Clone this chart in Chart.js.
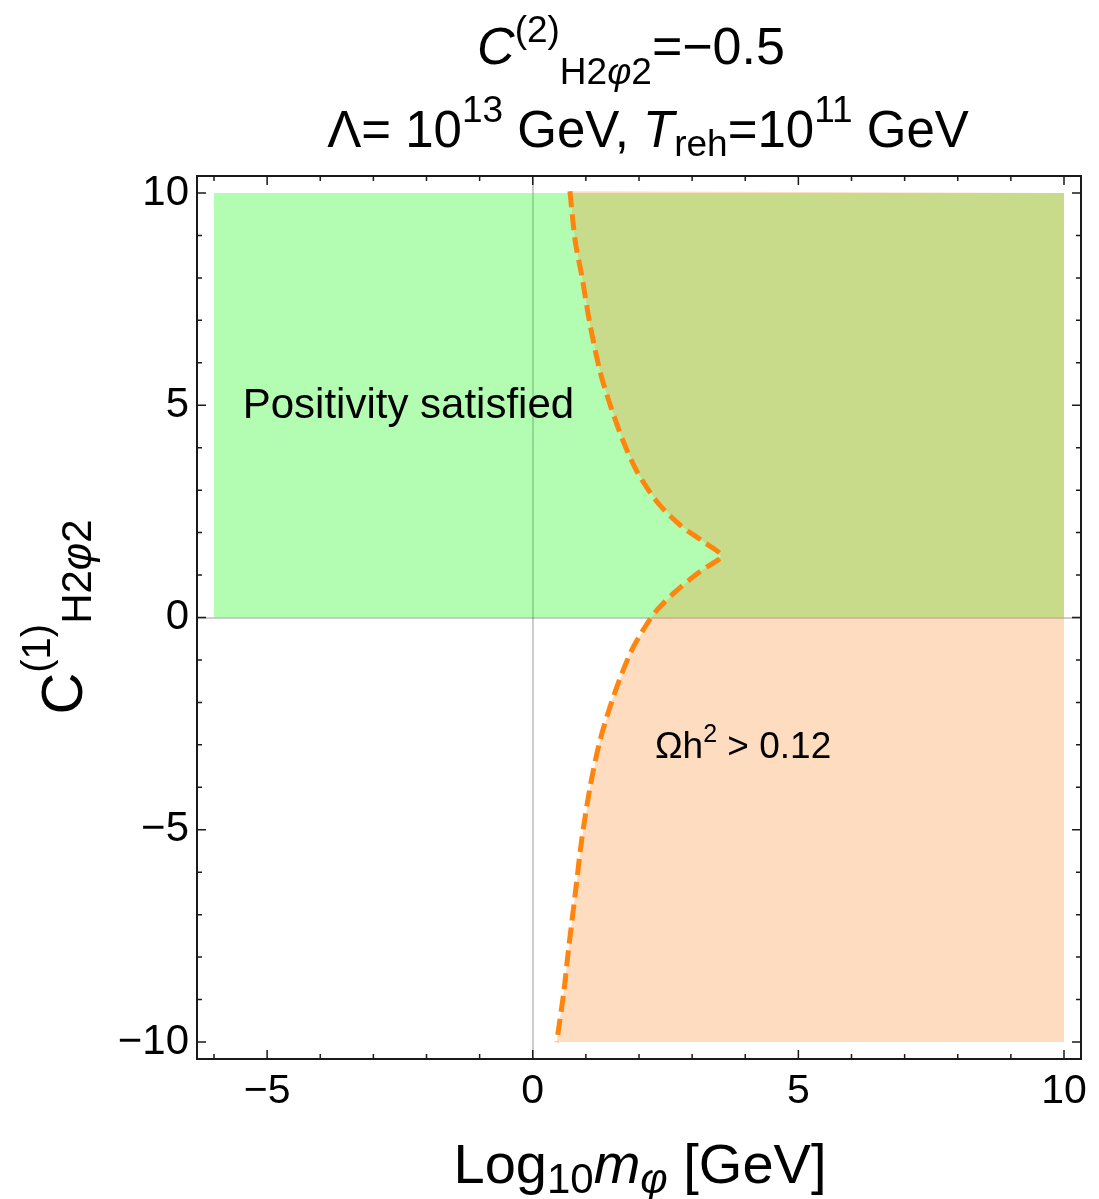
<!DOCTYPE html>
<html>
<head>
<meta charset="utf-8">
<script src="https://cdn.jsdelivr.net/npm/chart.js@4"></script>
<style>
html, body { margin: 0; padding: 0; background: #fff; }
</style>
</head>
<body>
<canvas id="c" width="1099" height="1199"></canvas>
<script>
// оси
var xRange = [-6.32, 10.32];
var yRange = [-10.4, 10.4];
var xTicks = [-5, 0, 5, 10];
var yTicks = [-10, -5, 0, 5, 10];

// область "Positivity satisfied" (прямоугольник)
var greenX = [-6, -6, 10, 10];
var greenY = [0, 10, 10, 0];

// граница Omega h^2 = 0.12, x как функция y (сверху вниз)
var curveY = [10.04, 8.86, 8.07, 6.89, 5.78, 5.0, 4.13, 3.42, 2.71, 2.16, 1.77, 1.45, 1.2, 0.98, 0.58, 0.19, -0.13, -0.83, -1.86, -2.88, -3.99, -5.25, -6.51, -7.85, -8.87, -10];
var curveX = [0.70, 0.80, 0.92, 1.08, 1.27, 1.46, 1.71, 1.97, 2.35, 2.79, 3.23, 3.55, 3.29, 3.04, 2.66, 2.35, 2.16, 1.84, 1.52, 1.27, 1.08, 0.92, 0.80, 0.67, 0.58, 0.45];

// правые углы области Omega h^2 > 0.12
var orangeCornerX = [10, 10];
var orangeCornerY = [-10, 10];

var FONT = "'Liberation Sans', Arial, sans-serif";

function pts(xs, ys){
	var r = [];
	for (var i = 0; i < xs.length; i++) r.push({x: xs[i], y: ys[i]});
	return r;
}

// текст с индексами: [текст, размер, сдвиг по y, курсив]
function richText(ctx, parts, x, y, align){
	var w = 0;
	parts.forEach(function(p){
		ctx.font = (p[3] ? 'italic ' : '') + p[1] + 'px ' + FONT;
		w += ctx.measureText(p[0]).width;
	});
	var cx = align === 'center' ? x - w / 2 : x;
	ctx.textAlign = 'left';
	ctx.textBaseline = 'alphabetic';
	parts.forEach(function(p){
		ctx.font = (p[3] ? 'italic ' : '') + p[1] + 'px ' + FONT;
		ctx.fillText(p[0], cx, y + p[2]);
		cx += ctx.measureText(p[0]).width;
	});
}

var decor = {
	id: 'decor',
	afterDatasetsDraw: function(chart){
		var ctx = chart.ctx, x = chart.scales.x, y = chart.scales.y;
		ctx.save();
		ctx.fillStyle = '#000';
		richText(ctx, [['Positivity satisfied', 42, 0, false]], x.getPixelForValue(-5.46), y.getPixelForValue(4.70), 'left');
		richText(ctx, [['\u03A9h', 37, 0, false], ['2', 25, -16, false], [' > 0.12', 37, 0, false]], x.getPixelForValue(2.30), y.getPixelForValue(-3.31), 'left');
		ctx.restore();
	},
	afterDraw: function(chart){
		var ctx = chart.ctx, a = chart.chartArea, x = chart.scales.x, y = chart.scales.y;
		var v, p, len;
		ctx.save();
		// рамка и внутренние засечки
		ctx.strokeStyle = '#1a1a1a';
		ctx.lineWidth = 2;
		ctx.strokeRect(a.left, a.top, a.right - a.left, a.bottom - a.top);
		ctx.lineWidth = 1.5;
		ctx.beginPath();
		for (v = -6; v <= 10; v++){
			p = x.getPixelForValue(v);
			len = v % 5 === 0 ? 9 : 5;
			ctx.moveTo(p, a.bottom); ctx.lineTo(p, a.bottom - len);
			ctx.moveTo(p, a.top); ctx.lineTo(p, a.top + len);
		}
		for (v = -10; v <= 10; v++){
			p = y.getPixelForValue(v);
			len = v % 5 === 0 ? 9 : 5;
			ctx.moveTo(a.left, p); ctx.lineTo(a.left + len, p);
			ctx.moveTo(a.right, p); ctx.lineTo(a.right - len, p);
		}
		ctx.stroke();

		ctx.fillStyle = '#000';
		// заголовок
		richText(ctx, [
			['C', 52, 0, true], ['(2)', 37, -22, false],
			['H2', 37, 20, false], ['\u03C6', 37, 20, true], ['2', 37, 20, false],
			['=\u22120.5', 52, 0, false]
		], 631, 64, 'center');
		richText(ctx, [
			['\u039B= 10', 51, 0, false], ['13', 37, -25, false],
			[' GeV, ', 51, 0, false], ['T', 51, 0, true], ['reh', 37, 9, false],
			['=10', 51, 0, false], ['11', 37, -25, false], [' GeV', 51, 0, false]
		], 648, 147, 'center');
		// подпись оси x
		richText(ctx, [
			['Log', 56, 0, false], ['10', 42, 10, false],
			['m', 56, 0, true], ['\u03C6', 42, 10, true], [' [GeV]', 56, 0, false]
		], 640, 1183, 'center');
		// подпись оси y
		ctx.translate(0, 617);
		ctx.rotate(-Math.PI / 2);
		richText(ctx, [
			['C', 58, 0, false], ['(1)', 40, -32, false],
			['H2', 42, 9, false], ['\u03C6', 42, 9, true], ['2', 42, 9, false]
		], 0, 82, 'center');
		ctx.restore();
	}
};

function zeroGrid(c){
	return c.tick && c.tick.value === 0 ? 'rgba(0,0,0,0.2)' : 'rgba(0,0,0,0)';
}

new Chart(document.getElementById('c'), {
	type: 'line',
	data: {
		datasets: [
			{
				data: pts(greenX, greenY),
				backgroundColor: 'rgba(0,250,0,0.3)',
				borderColor: 'rgba(0,0,0,0)',
				borderWidth: 0,
				pointRadius: 0,
				tension: 0,
				fill: 'shape',
				order: 3
			},
			{
				data: pts(curveX.concat(orangeCornerX), curveY.concat(orangeCornerY)),
				backgroundColor: 'rgba(248,140,45,0.3)',
				borderColor: 'rgba(0,0,0,0)',
				borderWidth: 0,
				pointRadius: 0,
				tension: 0,
				fill: 'shape',
				order: 2
			},
			{
				data: pts(curveX, curveY),
				borderColor: '#ff850f',
				borderWidth: 5,
				borderDash: [16, 7],
				pointRadius: 0,
				tension: 0.3,
				fill: false,
				order: 1
			}
		]
	},
	options: {
		responsive: false,
		animation: false,
		events: [],
		layout: { padding: { top: 176, right: 18, bottom: 0, left: 0 } },
		plugins: { legend: { display: false }, tooltip: { enabled: false }, title: { display: false } },
		scales: {
			x: {
				type: 'linear',
				min: xRange[0], max: xRange[1],
				afterBuildTicks: function(s){ s.ticks = xTicks.map(function(v){ return {value: v}; }); },
				afterFit: function(s){ s.height = 140; },
				border: { display: false },
				grid: { color: zeroGrid, lineWidth: 2, drawTicks: false },
				ticks: {
					color: '#000', padding: 8,
					font: { family: FONT, size: 41 },
					maxRotation: 0,
					callback: function(v){ return String(v).replace('-', '\u2212'); }
				}
			},
			y: {
				type: 'linear',
				min: yRange[0], max: yRange[1],
				afterBuildTicks: function(s){ s.ticks = yTicks.map(function(v){ return {value: v}; }); },
				afterFit: function(s){ s.width = 197; },
				border: { display: false },
				grid: { color: zeroGrid, lineWidth: 2, drawTicks: false },
				ticks: {
					color: '#000', padding: 8,
					font: { family: FONT, size: 42 },
					callback: function(v){ return String(v).replace('-', '\u2212'); }
				}
			}
		}
	},
	plugins: [decor]
});
</script>
</body>
</html>
